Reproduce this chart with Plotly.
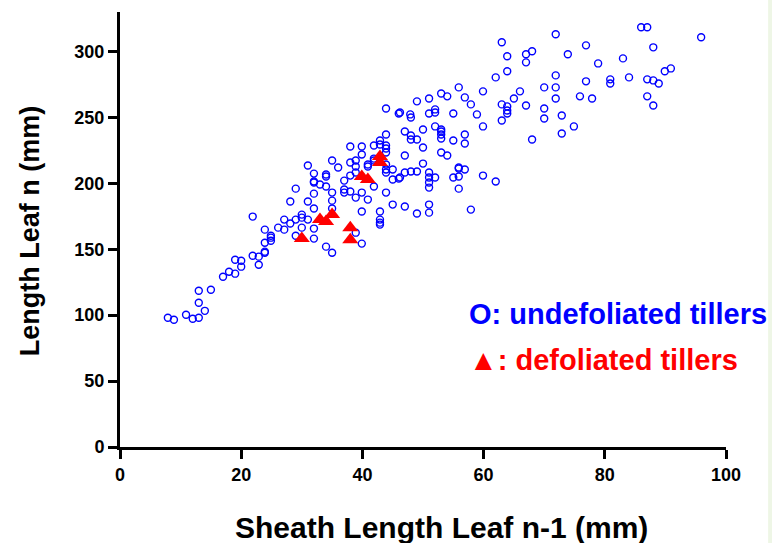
import plotly.graph_objects as go

# Undefoliated tillers (blue open circles): sheath length leaf n-1 (mm), length leaf n (mm)
undef_x = [47.9, 48.0, 49.0, 51.0, 52.0, 52.0, 51.0, 53.0, 54.0, 55.9, 56.9, 57.9, 55.0, 58.9, 59.9,
           63.0, 63.9, 63.9, 62.0, 67.0, 68.0, 67.0, 71.9, 76.9, 73.9, 78.9, 83.0, 86.0, 87.0, 88.0,
           95.9, 89.9, 90.9, 87.0, 88.0, 88.9, 84.0, 80.9, 80.9, 76.9, 71.9, 71.9, 70.0, 66.0, 65.0,
           63.0, 63.9, 63.9, 63.9, 63.0, 67.0, 70.0, 70.0, 71.9, 75.9, 77.9, 87.0, 88.0, 72.9, 74.9,
           72.9, 68.0, 59.9, 47.0, 50.0, 48.0, 48.0, 49.0, 52.0, 53.0, 53.0, 53.0, 53.0, 55.0, 56.9,
           56.9, 50.0, 47.0, 53.0, 54.0, 50.0, 47.0, 48.0, 49.0, 46.2, 51.0, 51.0, 51.0, 51.0, 52.0,
           55.0, 55.9, 55.9, 55.9, 56.9, 55.9, 59.9, 62.0, 47.0, 49.0, 51.0, 51.0, 57.9, 46.2,
           43.9, 46.0, 43.9, 42.9, 42.9, 41.9, 43.9, 43.9, 43.9, 41.9, 41.9, 39.9, 39.9, 38.0, 38.9,
           38.9, 38.9, 38.0, 38.0, 40.9, 40.9, 43.9, 43.9, 43.9, 45.0, 45.0, 46.0, 41.9, 39.9, 37.0,
           37.0, 37.0, 38.0, 38.9, 40.9, 43.9, 45.0, 42.9, 42.9, 42.9, 42.9, 39.9, 38.9, 39.9, 36.0,
           35.0, 34.0, 34.0, 32.0, 32.0, 32.0, 33.0, 34.0, 31.0, 35.0, 35.0, 35.0, 32.0, 31.0, 32.0,
           29.0, 28.1, 30.0, 30.0, 29.0, 27.1, 27.1, 28.1, 26.1, 31.0, 30.0, 32.0, 21.9, 23.9, 24.9,
           24.9, 24.9, 23.9, 29.0, 32.0, 34.0, 35.0, 21.9, 22.9, 22.9, 23.9, 23.9, 19.0, 20.0, 20.0,
           18.0, 19.0, 17.0, 15.0, 13.0, 13.0, 14.0, 10.9, 12.0, 13.0, 7.9, 8.9]
undef_y = [252.3, 250.0, 262.2, 264.4, 256.1, 253.8, 253.0, 268.2, 266.0, 272.8, 265.2, 259.9, 253.0, 252.3, 269.8,
           307.0, 296.4, 285.0, 280.4, 297.9, 300.2, 291.8, 313.1, 304.7, 297.9, 291.0, 294.8, 318.4, 318.4, 303.2,
           310.8, 285.0, 287.2, 278.9, 278.1, 275.8, 280.4, 278.9, 275.8, 277.4, 281.9, 272.8, 272.8, 269.8, 264.4,
           259.9, 258.4, 255.3, 253.0, 247.7, 259.1, 256.8, 249.2, 264.4, 266.0, 264.4, 266.0, 259.1, 251.5, 243.2,
           237.8, 233.3, 243.2, 239.4, 240.9, 236.3, 233.3, 233.3, 243.2, 240.9, 239.4, 237.1, 234.0, 232.5, 237.1,
           230.2, 227.2, 221.1, 223.4, 221.1, 215.0, 208.2, 209.0, 209.0, 204.4, 208.2, 204.4, 200.6, 196.8, 204.4,
           204.4, 205.2, 212.0, 211.2, 210.5, 196.0, 205.9, 201.4, 182.4, 177.1, 183.9, 177.8, 180.1, 253.8,
           256.8, 253.0, 237.1, 232.5, 229.5, 228.7, 228.7, 226.4, 223.4, 218.8, 217.3, 228.0, 221.9, 228.0, 217.3,
           212.8, 208.2, 215.8, 205.9, 214.3, 212.8, 214.3, 210.5, 208.2, 210.5, 202.9, 203.6, 197.6, 193.0, 202.1,
           195.3, 193.0, 193.8, 189.2, 187.7, 193.0, 183.9, 178.6, 172.5, 170.2, 168.7, 178.6, 162.6, 154.3, 212.0,
           217.3, 206.7, 205.2, 207.4, 201.4, 200.6, 199.1, 197.6, 213.5, 193.0, 186.9, 180.9, 192.2, 186.2, 180.9,
           196.0, 186.2, 176.3, 174.0, 172.5, 172.5, 164.9, 169.5, 166.4, 172.5, 166.4, 165.7, 174.8, 164.9, 160.3,
           158.8, 156.5, 155.0, 160.3, 158.1, 152.0, 147.4, 145.1, 144.4, 138.3, 148.2, 147.4, 142.1, 141.3, 136.8,
           133.0, 131.5, 129.2, 119.3, 118.5, 109.4, 103.3, 100.3, 97.3, 98.0, 98.0, 96.5]

# Defoliated tillers (red triangles)
def_x = [42.9, 42.9, 39.9, 40.9, 33.0, 34.0, 35.0, 38.0, 38.0, 30.0]
def_y = [220.4, 215.8, 205.2, 202.9, 172.5, 171.0, 176.3, 166.4, 157.3, 158.1]

x_ticks = [0, 20, 40, 60, 80, 100]
y_ticks = [0, 50, 100, 150, 200, 250, 300]

x_title = "Sheath Length Leaf n-1 (mm)"
y_title = "Length Leaf n (mm)"

fig = go.Figure()
fig.add_trace(go.Scatter(
    x=undef_x, y=undef_y, mode="markers", name="undefoliated tillers",
    marker=dict(symbol="circle-open", size=7, color="#0000FF", line=dict(width=1.4, color="#0000FF")),
))
fig.add_trace(go.Scatter(
    x=def_x, y=def_y, mode="markers", name="defoliated tillers",
    marker=dict(symbol="triangle-up", size=14, color="#FF0000"),
))

tick_font = dict(family="Liberation Sans, Arial", size=18, color="black", weight="bold")

fig.update_layout(
    width=772, height=543,
    margin=dict(l=120, r=46, t=12, b=96),
    paper_bgcolor="white", plot_bgcolor="white",
    showlegend=False,
    font=dict(family="Liberation Sans, Arial", color="black"),
    xaxis=dict(
        range=[0, 100], tickvals=x_ticks, ticktext=[str(v) for v in x_ticks],
        showgrid=False, zeroline=False, showline=True, linecolor="black", linewidth=3,
        ticks="outside", ticklen=9, tickwidth=2.5, tickcolor="black", tickfont=tick_font,
        automargin=False,
    ),
    yaxis=dict(
        range=[0, 330], tickvals=y_ticks, ticktext=[str(v) for v in y_ticks],
        showgrid=False, zeroline=False, showline=True, linecolor="black", linewidth=3,
        ticks="outside", ticklen=9, tickwidth=2.5, tickcolor="black", tickfont=tick_font,
        automargin=False,
    ),
    annotations=[
        dict(xref="paper", yref="paper", x=0.53, y=-0.184, xanchor="center", yanchor="middle",
             text=f"<b>{x_title}</b>", showarrow=False,
             font=dict(family="Liberation Sans, Arial", size=30, color="black")),
        dict(xref="paper", yref="paper", x=-0.148, y=0.4966, xanchor="center", yanchor="middle",
             text=f"<b>{y_title}</b>", showarrow=False, textangle=-90,
             font=dict(family="Liberation Sans, Arial", size=27, color="black")),
        dict(xref="paper", yref="paper", x=0.572, y=0.306, xanchor="left", yanchor="middle",
             text="<b>O: undefoliated tillers</b>", showarrow=False,
             font=dict(family="Liberation Sans, Arial", size=29, color="#0000FF")),
        dict(xref="paper", yref="paper", x=0.572, y=0.200, xanchor="left", yanchor="middle",
             text="<b>▲: defoliated tillers</b>", showarrow=False,
             font=dict(family="Liberation Sans, Arial", size=29, color="#FF0000")),
    ],
    shapes=[
        dict(type="rect", xref="paper", yref="paper", x0=1.0695, x1=1.08, y0=-0.23, y1=1.03,
             fillcolor="#eef6e6", line=dict(width=0), layer="above"),
    ],
)

fig.write_html("out.html")
